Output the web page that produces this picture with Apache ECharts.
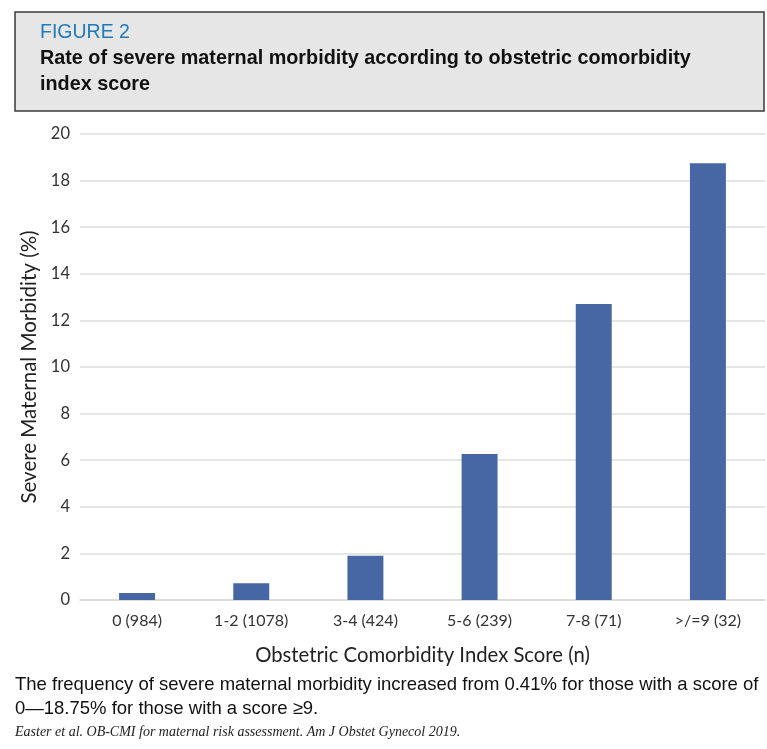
<!DOCTYPE html>
<html>
<head>
<meta charset="utf-8">
<script src="https://cdn.jsdelivr.net/npm/echarts@6/dist/echarts.min.js"></script>
<style>
  html, body { margin: 0; padding: 0; background: #fff; }
  #chart { width: 767px; height: 749px; }
</style>
</head>
<body>
<div id="chart"></div>
<script>
// categories and values
var categories = ["0 (984)", "1-2 (1078)", "3-4 (424)", "5-6 (239)", "7-8 (71)", ">/=9 (32)"];
var smmRate = [0.3, 0.72, 1.9, 6.27, 12.7, 18.75];
var yTicks = { min: 0, max: 20, interval: 2 };

var sans = '"Liberation Sans", Arial, sans-serif';
var labelFont = 'Lato, "Open Sans", sans-serif';

var myChart = echarts.init(document.getElementById("chart"));
myChart.setOption({
  animation: false,
  backgroundColor: "#fff",
  grid: { left: 80, right: 2, top: 134, bottom: 149 },
  xAxis: {
    type: "category",
    data: categories,
    name: "Obstetric Comorbidity Index Score (n)",
    nameLocation: "middle",
    nameGap: 45,
    nameTextStyle: { fontFamily: labelFont, fontSize: 20.3, color: "#222" },
    axisLine: { lineStyle: { color: "#d9d9d9", width: 1.5 } },
    axisTick: { show: false },
    axisLabel: { fontFamily: labelFont, fontSize: 16, color: "#333", margin: 13 }
  },
  yAxis: {
    type: "value",
    min: yTicks.min,
    max: yTicks.max,
    interval: yTicks.interval,
    name: "Severe Maternal Morbidity (%)",
    nameLocation: "middle",
    nameGap: 37,
    nameTextStyle: { fontFamily: labelFont, fontSize: 20.5, color: "#222" },
    axisLine: { show: false },
    axisTick: { show: false },
    splitLine: { lineStyle: { color: "#dcdcdc", width: 1.5 } },
    axisLabel: { fontFamily: labelFont, fontSize: 16.5, color: "#333", margin: 10 }
  },
  series: [
    {
      type: "bar",
      data: smmRate,
      barWidth: "31.5%",
      itemStyle: { color: "#4767a4" }
    }
  ],
  graphic: [
    {
      type: "rect",
      shape: { x: 15, y: 12, width: 749, height: 99 },
      style: { fill: "#e6e6e6", stroke: "#3a3a3a", lineWidth: 1.5 }
    },
    {
      type: "text",
      left: 40, top: 23,
      style: { text: "FIGURE 2", fill: "#1f7ab8", font: '19.5px ' + sans }
    },
    {
      type: "text",
      left: 40, top: 46,
      style: {
        text: "Rate of severe maternal morbidity according to obstetric comorbidity\nindex score",
        fill: "#111",
        font: 'bold 19.8px ' + sans,
        lineHeight: 26
      }
    },
    {
      type: "text",
      left: 15, top: 673,
      style: {
        text: "The frequency of severe maternal morbidity increased from 0.41% for those with a score of\n0\u201418.75% for those with a score \u22659.",
        fill: "#111",
        font: '18.5px ' + sans,
        lineHeight: 24
      }
    },
    {
      type: "text",
      left: 15, top: 725,
      style: {
        text: "Easter et al. OB-CMI for maternal risk assessment. Am J Obstet Gynecol 2019.",
        fill: "#222",
        font: 'italic 14px "Liberation Serif", serif'
      }
    }
  ]
});
</script>
</body>
</html>
